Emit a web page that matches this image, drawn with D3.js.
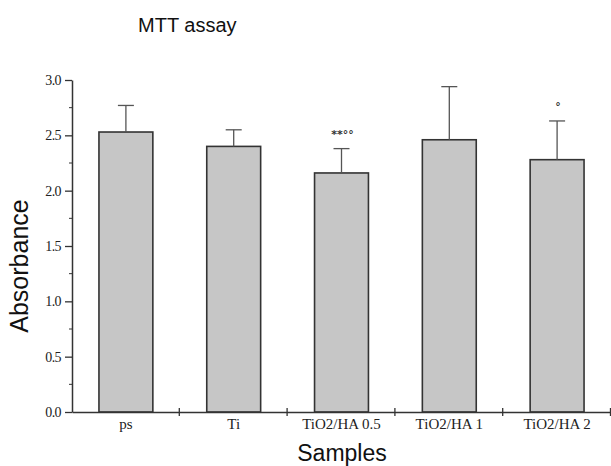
<!DOCTYPE html>
<html>
<head>
<meta charset="utf-8">
<script src="https://cdn.jsdelivr.net/npm/d3@7"></script>
<style>
  body { margin: 0; background: #fff; }
  svg { display: block; }
</style>
</head>
<body>
<svg width="611" height="466"></svg>
<script>
// Chart data
const samples = ['ps', 'Ti', 'TiO2/HA 0.5', 'TiO2/HA 1', 'TiO2/HA 2'];
const absorbance = [2.53, 2.40, 2.16, 2.46, 2.28];
const errorTop = [2.77, 2.55, 2.38, 2.94, 2.63];
const marks = ['', '', '**°°', '', '°'];
const yTicks = [0.0, 0.5, 1.0, 1.5, 2.0, 2.5, 3.0];

const svg = d3.select('svg');
const margin = {left: 72, right: 0, top: 80, bottom: 54};
const width = 611, height = 466;

// Scales
const x = d3.scaleBand()
    .domain(samples)
    .range([margin.left, width - margin.right])
    .paddingInner(0.5)
    .paddingOuter(0.25);

const y = d3.scaleLinear()
    .domain([0, 3])
    .range([height - margin.bottom, margin.top]);

const ink = '#333';
const serif = "'Liberation Serif', 'Times New Roman', serif";
const sans = "'Liberation Sans', Arial, sans-serif";

// Bars
svg.selectAll('rect.bar')
    .data(samples)
    .join('rect')
    .attr('class', 'bar')
    .attr('x', d => x(d))
    .attr('width', x.bandwidth())
    .attr('y', (d, i) => y(absorbance[i]))
    .attr('height', (d, i) => y(0) - y(absorbance[i]))
    .attr('fill', '#c6c6c6')
    .attr('stroke', ink)
    .attr('stroke-width', 1.6);

// Error bars (upper only)
const err = svg.append('g').attr('stroke', '#555').attr('stroke-width', 1.3);
samples.forEach((d, i) => {
    const cx = x(d) + x.bandwidth() / 2;
    err.append('line')
        .attr('x1', cx).attr('x2', cx)
        .attr('y1', y(absorbance[i])).attr('y2', y(errorTop[i]));
    err.append('line')
        .attr('x1', cx - 8).attr('x2', cx + 8)
        .attr('y1', y(errorTop[i])).attr('y2', y(errorTop[i]));
});

// Significance marks
svg.selectAll('text.mark')
    .data(samples)
    .join('text')
    .attr('class', 'mark')
    .attr('x', d => x(d) + x.bandwidth() / 2 + 1)
    .attr('y', (d, i) => y(errorTop[i]) - 11)
    .attr('text-anchor', 'middle')
    .attr('font-family', "'DejaVu Sans', sans-serif")
    .attr('font-size', 11)
    .attr('font-weight', 'bold')
    .style('fill', '#333')
    .text((d, i) => marks[i]);

// Y axis
const yAxis = svg.append('g')
    .attr('transform', `translate(${margin.left},0)`)
    .call(d3.axisLeft(y).tickValues(yTicks).tickFormat(d3.format('.1f')).tickSize(7).tickSizeOuter(0));
// minor ticks
yAxis.selectAll('line.minor')
    .data(d3.range(0.25, 3, 0.5))
    .join('line')
    .attr('class', 'minor')
    .attr('x1', -3).attr('x2', 0)
    .attr('y1', d => y(d)).attr('y2', d => y(d))
    .attr('stroke', ink);

yAxis.select('.domain').attr('stroke', ink).attr('stroke-width', 1.5);
yAxis.selectAll('.tick line').attr('stroke', ink).attr('stroke-width', 1.3);
yAxis.selectAll('.tick text')
    .style('font-family', serif)
    .style('font-size', '14px')
    .attr('letter-spacing', -0.6)
    .attr('fill', '#222')
    .attr('x', -11);

// X axis
const xAxis = svg.append('g')
    .attr('transform', `translate(0,${y(0)})`)
    .call(d3.axisBottom(x).tickSize(0).tickPadding(6));
xAxis.select('.domain').attr('stroke', ink).attr('stroke-width', 1.5);
xAxis.selectAll('.tick text')
    .style('font-family', serif)
    .style('font-size', '15px')
    .attr('fill', '#222');

// boundary ticks between bands
const step = x.step();
const bounds = samples.map((d, i) => margin.left + step * (i + 1) - 0.5);
xAxis.selectAll('line.sep')
    .data(bounds)
    .join('line')
    .attr('class', 'sep')
    .attr('x1', d => d).attr('x2', d => d)
    .attr('y1', -4).attr('y2', 4)
    .attr('stroke', ink)
    .attr('stroke-width', 1.3);

// Titles
svg.append('text')
    .attr('x', 138).attr('y', 32)
    .style('font-family', sans)
    .style('font-size', '20px')
    .attr('fill', '#111')
    .text('MTT assay');

svg.append('text')
    .attr('x', 342).attr('y', 461)
    .attr('text-anchor', 'middle')
    .style('font-family', sans)
    .style('font-size', '23px')
    .attr('fill', '#111')
    .text('Samples');

svg.append('text')
    .attr('transform', 'translate(28,266) rotate(-90)')
    .attr('text-anchor', 'middle')
    .style('font-family', sans)
    .style('font-size', '25px')
    .attr('fill', '#111')
    .text('Absorbance');
</script>
</body>
</html>
